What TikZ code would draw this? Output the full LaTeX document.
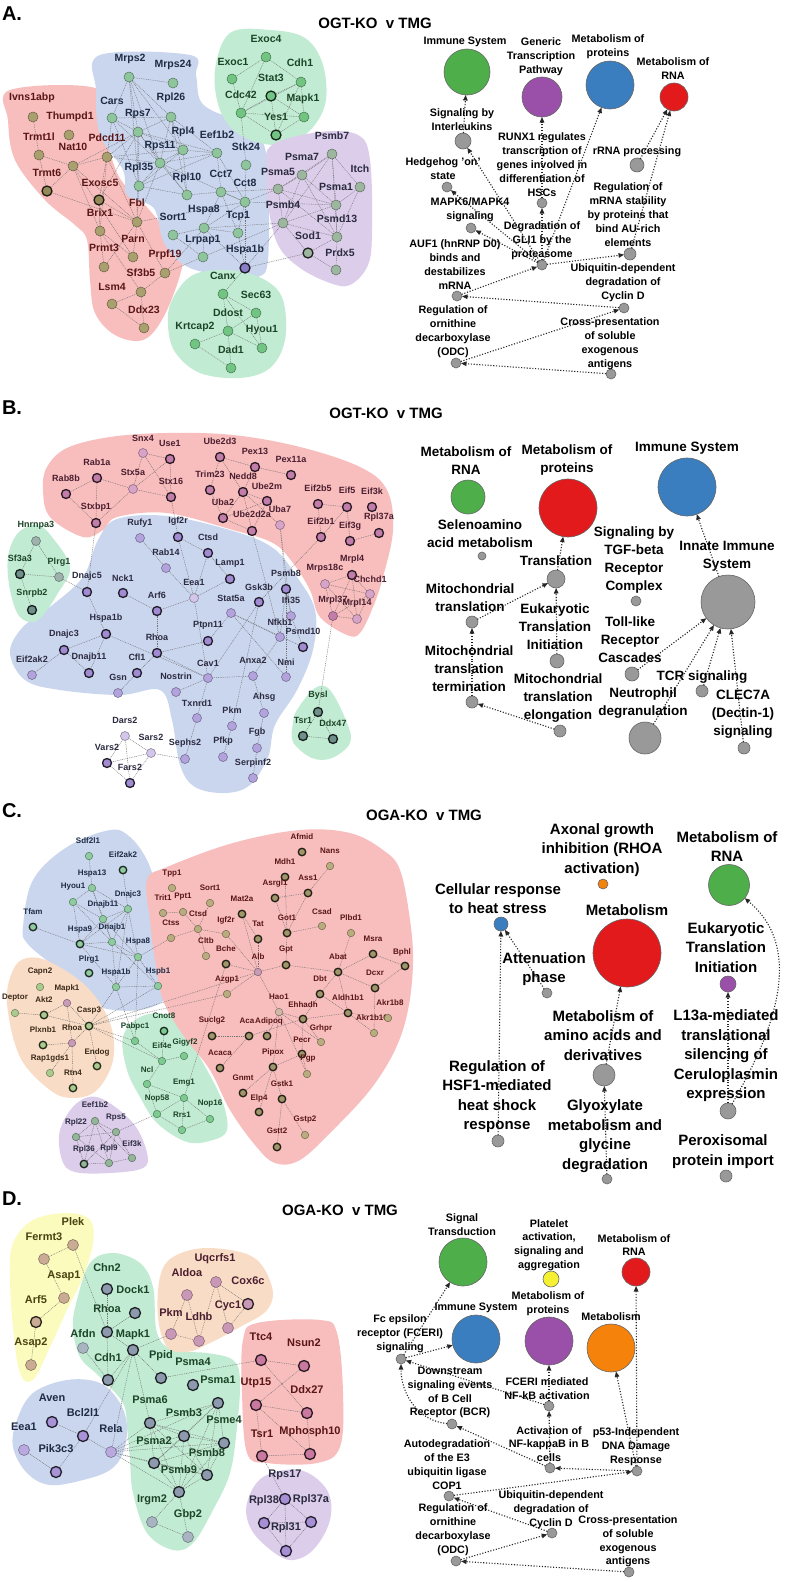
\documentclass[tikz,border=0pt]{standalone}
\usepackage{fontspec}
\setmainfont{Liberation Sans}
\usetikzlibrary{arrows.meta}
\pgfdeclarelayer{bgw}
\pgfdeclarelayer{blob}
\pgfdeclarelayer{lines}
\pgfsetlayers{bgw,blob,lines,main}
% blobs
\definecolor{blobR}{HTML}{F8BDBD}
\definecolor{blobB}{HTML}{CAD6EE}
\definecolor{blobG}{HTML}{C2EBD3}
\definecolor{blobP}{HTML}{DCCDEA}
\definecolor{blobY}{HTML}{FBFBBE}
\definecolor{blobO}{HTML}{F9DCC5}
% node fills
\definecolor{aRf}{HTML}{A99F6F}\definecolor{aRt}{HTML}{938A58}
\definecolor{aBf}{HTML}{8FC59C}\definecolor{aGf}{HTML}{72C483}
\definecolor{aPf}{HTML}{9DB69F}\definecolor{aUf}{HTML}{8A7DC6}
\definecolor{bRf}{HTML}{C27DAA}\definecolor{bRl}{HTML}{D7A3C8}
\definecolor{bBf}{HTML}{A18BD2}\definecolor{bBl}{HTML}{B3A3DD}\definecolor{bBx}{HTML}{D2C6EA}
\definecolor{bGf}{HTML}{6F9088}\definecolor{bGl}{HTML}{9EB2AD}
\definecolor{cBf}{HTML}{8ECC9F}\definecolor{cRf}{HTML}{B9AC7E}\definecolor{cRt}{HTML}{A0966A}
\definecolor{cPk}{HTML}{C89CB8}\definecolor{cOf}{HTML}{ABCB8E}\definecolor{cGf}{HTML}{7DCB91}
\definecolor{cPf}{HTML}{93B598}\definecolor{cRl}{HTML}{D2B8A6}
\definecolor{dGf}{HTML}{8D9AAE}\definecolor{dGl}{HTML}{A9B4C2}\definecolor{dYf}{HTML}{C9AC93}
\definecolor{dOf}{HTML}{CA98B7}\definecolor{dRf}{HTML}{C9799F}\definecolor{dPf}{HTML}{A78FD5}
\definecolor{dBf}{HTML}{A893D6}\definecolor{dBl}{HTML}{B9A9DF}
% label colours
\definecolor{lR}{HTML}{5A1616}\definecolor{lB}{HTML}{1E2B45}\definecolor{lG}{HTML}{1C4527}
\definecolor{lP}{HTML}{2B2B40}\definecolor{lRb}{HTML}{4A1E30}\definecolor{lY}{HTML}{4A4210}
\definecolor{lO}{HTML}{3A2A1A}
% pathway colours
\definecolor{pG}{HTML}{4DAE4A}\definecolor{pU}{HTML}{9A4FA8}\definecolor{pB}{HTML}{3A7EBF}
\definecolor{pR}{HTML}{E31A1C}\definecolor{pN}{HTML}{999999}\definecolor{pO}{HTML}{F5830B}
\definecolor{pY}{HTML}{F5F032}
\newcommand\gn[7]{\node[#4] (#1) at (#2,#3) {}; \node[curlab] (#1L) at (#5,#6) {#7};}
\newcommand\pw[8]{\node[pwn={#4}{#5}] (#1) at (#2,#3) {}; \node[curpl] (#1L) at (#6,#7) {#8};}
\newcommand\lk[1]{\begin{pgfonlayer}{lines}\foreach \a/\b in {#1} {\draw[lnk] (\a) -- (\b);}\end{pgfonlayer}}
\newcommand\blob[2]{\begin{pgfonlayer}{blob}\fill[#1] plot[smooth cycle,tension=0.6] coordinates {#2};\end{pgfonlayer}}
\tikzset{
 every node/.style={inner sep=0pt,outer sep=0pt},
 nd/.style 2 args={circle,minimum size=#1,fill=#2,draw=#2!60!black,line width=0.5pt},
 ndT/.style 2 args={circle,minimum size=#1,fill=#2,draw=#2!20!black,line width=1.3pt},
 arN/.style={nd={10pt}{aRf}}, arT/.style={ndT={10pt}{aRt}},
 abN/.style={nd={10pt}{aBf}},
 agN/.style={nd={10pt}{aGf}}, agT/.style={ndT={10pt}{aGf}},
 apN/.style={nd={10pt}{aPf}}, apT/.style={ndT={10pt}{aPf}},
 apur/.style={ndT={10pt}{aUf}},
 brT/.style={ndT={9pt}{bRf}}, brL/.style={nd={9pt}{bRl}}, brM/.style={nd={9pt}{bRf}},
 bbT/.style={ndT={9pt}{bBf}}, bbL/.style={nd={9pt}{bBl}}, bbX/.style={nd={9pt}{bBx}},
 bgT/.style={ndT={9pt}{bGf}}, bgL/.style={nd={9pt}{bGl}},
 cbN/.style={nd={7.5pt}{cBf}}, cbT/.style={ndT={7.5pt}{cBf}},
 coN/.style={nd={7.5pt}{cOf}}, coT/.style={ndT={7.5pt}{cOf}}, coP/.style={nd={7.5pt}{cPk}},
 cgN/.style={nd={7.5pt}{cGf}}, cgT/.style={ndT={7.5pt}{cGf}},
 cpN/.style={nd={7.5pt}{cPf}}, cpT/.style={ndT={7.5pt}{cPf}},
 crN/.style={nd={7.5pt}{cRf}}, crT/.style={ndT={7.5pt}{cRt}}, crL/.style={nd={7.5pt}{cRl}},
 crP/.style={nd={7.5pt}{cPk}},
 dyN/.style={nd={11pt}{dYf}}, dyT/.style={ndT={11pt}{dYf}},
 dgT/.style={ndT={11pt}{dGf}}, dgL/.style={nd={11pt}{dGl}},
 doN/.style={nd={11pt}{dOf}}, doT/.style={ndT={11pt}{dOf}},
 drT/.style={ndT={11pt}{dRf}}, dpT/.style={ndT={11pt}{dPf}},
 dbT/.style={ndT={11pt}{dBf}}, dbL/.style={nd={11pt}{dBl}},
 labA/.style={font=\fontsize{10.5}{10.5}\selectfont\bfseries},
 labB/.style={font=\fontsize{9}{9}\selectfont\bfseries},
 labC/.style={font=\fontsize{8}{8}\selectfont\bfseries},
 labD/.style={font=\fontsize{11}{11}\selectfont\bfseries},
 pwn/.style 2 args={circle,minimum size=#1,fill=#2,draw=black!60,line width=0.6pt},
 ptA/.style={align=center,font=\fontsize{10.8}{14}\selectfont\bfseries},
 ptB/.style={align=center,font=\fontsize{13.5}{18}\selectfont\bfseries},
 ptC/.style={align=center,font=\fontsize{15}{19.5}\selectfont\bfseries},
 ptD/.style={align=center,font=\fontsize{10.8}{13.8}\selectfont\bfseries},
 lnk/.style={draw=black!55,line width=0.45pt,dash pattern=on 0.9pt off 0.9pt},
 arr/.style={draw=black!85,line width=1.1pt,dash pattern=on 1.1pt off 1.7pt,-{Triangle[length=5.5pt,width=4.5pt]}},
 ttl/.style={font=\fontsize{15}{15}\selectfont\bfseries},
 plet/.style={font=\fontsize{20}{20}\selectfont\bfseries,anchor=west},
}
\begin{document}
\begin{tikzpicture}[x=1pt,y=-1pt]
\useasboundingbox (0,0) rectangle (787,1582);
\begin{pgfonlayer}{bgw}\fill[white] (0,0) rectangle (787,1582);\end{pgfonlayer}
% ================= PANEL A =================
\node[plet] (LA) at (2,14) {A.};
\node[ttl] (TA) at (375,23) {OGT-KO\ \ v TMG};
\blob{blobR}{(10,90) (95,88) (102,120) (118,175) (145,205) (162,225) (182,250) (180,275) (163,318) (143,340) (115,335) (95,313) (90,280) (87,240) (75,225) (45,200) (15,160) (8,120)}
\blob{blobB}{(100,55) (190,55) (196,75) (200,100) (215,112) (245,122) (262,140) (268,175) (268,260) (258,277) (240,278) (190,268) (165,245) (157,215) (150,205) (127,195) (123,170) (100,135) (96,90)}
\blob{blobG}{(230,33) (270,30) (305,38) (323,65) (325,105) (305,135) (275,145) (240,135) (220,110) (215,70)}
\blob{blobP}{(272,145) (320,132) (358,135) (370,160) (372,230) (368,265) (350,285) (330,283) (300,268) (278,245) (268,205) (266,170)}
\blob{blobG}{(172,300) (193,275) (230,270) (265,280) (283,300) (285,340) (270,368) (240,378) (200,373) (175,352) (168,325)}
\tikzset{curlab/.style={labA,text=lR}}
\gn{aIvns}{33}{117}{arN}{32}{98}{Ivns1abp}
\gn{aThum}{69}{135}{arN}{70}{117}{Thumpd1}
\gn{aTrmtl}{39}{155}{arN}{39}{137}{Trmt1l}
\gn{aNat}{73}{166}{arN}{73}{147}{Nat10}
\gn{aPdcd}{107}{157}{arN}{107}{138}{Pdcd11}
\gn{aTrmt6}{47}{191}{arT}{47}{173}{Trmt6}
\gn{aExo}{99}{200}{arT}{100}{183}{Exosc5}
\gn{aFbl}{137}{222}{arN}{137}{203}{Fbl}
\gn{aBrix}{100}{231}{arN}{100}{213}{Brix1}
\gn{aParn}{133}{257}{arN}{133}{239}{Parn}
\gn{aPrmt}{104}{267}{arN}{104}{248}{Prmt3}
\gn{aPrpf}{165}{273}{arN}{165}{255}{Prpf19}
\gn{aSf3}{141}{292}{arN}{141}{273}{Sf3b5}
\gn{aLsm}{112}{304}{arN}{112}{287}{Lsm4}
\gn{aDdx}{144}{328}{arN}{144}{310}{Ddx23}
\tikzset{curlab/.style={labA,text=lB}}
\gn{aMrps2}{129}{77}{abN}{130}{59}{Mrps2}
\gn{aMrps24}{173}{83}{abN}{173}{65}{Mrps24}
\gn{aCars}{112}{118}{abN}{112}{101}{Cars}
\gn{aRpl26}{171}{117}{abN}{171}{98}{Rpl26}
\gn{aRps7}{138}{132}{abN}{138}{114}{Rps7}
\gn{aRpl4}{183}{150}{abN}{183}{132}{Rpl4}
\gn{aEef}{217}{153}{abN}{217}{135}{Eef1b2}
\gn{aRps11}{160}{163}{abN}{160}{146}{Rps11}
\gn{aStk}{246}{165}{abN}{246}{147}{Stk24}
\gn{aRpl35}{139}{186}{abN}{139}{168}{Rpl35}
\gn{aRpl10}{187}{195}{abN}{187}{178}{Rpl10}
\gn{aCct7}{221}{192}{abN}{221}{174}{Cct7}
\gn{aCct8}{245}{202}{abN}{245}{183}{Cct8}
\gn{aHspa8}{204}{228}{abN}{204}{210}{Hspa8}
\gn{aSort}{173}{235}{abN}{173}{217}{Sort1}
\gn{aTcp}{238}{233}{abN}{238}{216}{Tcp1}
\gn{aLrp}{203}{257}{abN}{203}{240}{Lrpap1}
\gn{aHspa1b}{245}{268}{apur}{245}{250}{Hspa1b}
\tikzset{curlab/.style={labA,text=lG}}
\gn{aExoc4}{266}{57}{agN}{266}{39}{Exoc4}
\gn{aExoc1}{232}{79}{agN}{233}{62}{Exoc1}
\gn{aCdh}{301}{82}{agN}{300}{63}{Cdh1}
\gn{aStat}{271}{96}{agT}{271}{78}{Stat3}
\gn{aCdc}{241}{113}{agN}{241}{95}{Cdc42}
\gn{aMapk}{304}{117}{agN}{303}{99}{Mapk1}
\gn{aYes}{276}{135}{agT}{276}{117}{Yes1}
\gn{aCanx}{223}{294}{agN}{223}{276}{Canx}
\gn{aSec}{256}{313}{agN}{256}{295}{Sec63}
\gn{aDdost}{228}{331}{agN}{228}{313}{Ddost}
\gn{aKrt}{195}{344}{agN}{195}{327}{Krtcap2}
\gn{aHyou}{262}{348}{agN}{262}{330}{Hyou1}
\gn{aDad}{231}{368}{agN}{231}{350}{Dad1}
\tikzset{curlab/.style={labA,text=lP}}
\gn{aPsmb7}{332}{154}{apN}{332}{136}{Psmb7}
\gn{aPsma7}{302}{175}{apN}{302}{157}{Psma7}
\gn{aItch}{360}{187}{apN}{360}{169}{Itch}
\gn{aPsma5}{278}{189}{apN}{278}{172}{Psma5}
\gn{aPsma1}{336}{205}{apN}{336}{187}{Psma1}
\gn{aPsmb4}{283}{223}{apN}{283}{205}{Psmb4}
\gn{aPsmd}{337}{237}{apN}{337}{219}{Psmd13}
\gn{aSod}{308}{253}{apT}{308}{236}{Sod1}
\gn{aPrdx}{336}{270}{apN}{340}{253}{Prdx5}
\lk{aIvns/aTrmtl,aTrmtl/aTrmt6,aTrmtl/aNat,aNat/aPdcd,aNat/aTrmt6,aNat/aBrix,aNat/aFbl,aNat/aRps7,aNat/aParn,aTrmt6/aFbl,aPdcd/aExo,aPdcd/aFbl,aPdcd/aBrix,aPdcd/aRps7,aPdcd/aRps11,aPdcd/aRpl4,aPdcd/aCars,aExo/aFbl,aExo/aBrix,aExo/aRps7,aFbl/aParn,aFbl/aPrmt,aFbl/aPrpf,aFbl/aRpl35,aFbl/aRps11,aFbl/aRps7,aFbl/aCct8,aBrix/aPrmt,aBrix/aParn,aBrix/aSf3,aPrpf/aSf3,aSf3/aLsm,aSf3/aDdx,aLsm/aDdx,aPrpf/aHspa8,aPrpf/aPsmb4}
\lk{aMrps2/aMrps24,aMrps2/aCars,aMrps2/aRps7,aMrps2/aRpl26,aMrps2/aRps11,aMrps2/aRpl4,aMrps2/aRpl35,aCars/aRps7,aCars/aRpl35,aCars/aRps11,aCars/aRpl26,aRpl26/aRps7,aRpl26/aRpl4,aRpl26/aRps11,aRpl26/aEef,aRpl26/aRpl10,aRps7/aRpl4,aRps7/aRps11,aRps7/aRpl35,aRps7/aRpl10,aRps7/aEef,aRpl4/aRps11,aRpl4/aEef,aRpl4/aRpl10,aRpl4/aRpl35,aRps11/aRpl35,aRps11/aRpl10,aRps11/aEef,aRps11/aCct8,aRpl10/aRpl35,aRpl10/aCct7,aRpl35/aEef,aEef/aCct7,aEef/aCct8,aStk/aCct8,aStk/aCdc,aCct7/aCct8,aCct7/aTcp,aCct7/aHspa8,aCct7/aPsma5,aCct8/aTcp,aCct8/aHspa8,aCct8/aPsma5,aCct8/aPsma1,aCct8/aHspa1b,aHspa8/aSort,aHspa8/aLrp,aHspa8/aTcp,aHspa8/aHspa1b,aHspa8/aPsmb4,aTcp/aHspa1b,aSort/aLrp,aHspa1b/aCanx,aHspa1b/aSod,aHspa1b/aPsmb4}
\lk{aExoc4/aExoc1,aExoc4/aCdh,aExoc4/aCdc,aExoc1/aCdc,aCdh/aStat,aCdh/aMapk,aCdh/aYes,aCdh/aCdc,aStat/aCdc,aStat/aMapk,aStat/aYes,aCdc/aYes,aCdc/aMapk,aMapk/aYes}
\lk{aPsmb7/aPsma7,aPsmb7/aItch,aPsmb7/aPsma5,aPsmb7/aPsma1,aPsmb7/aPsmb4,aPsmb7/aPsmd,aPsma7/aPsma5,aPsma7/aPsma1,aPsma7/aPsmb4,aPsma7/aPsmd,aPsma5/aPsma1,aPsma5/aPsmb4,aPsma5/aPsmd,aPsma1/aPsmb4,aPsma1/aPsmd,aPsma1/aItch,aItch/aPsmd,aPsmb4/aPsmd,aPsmb4/aSod,aPsmd/aSod,aSod/aPrdx,aPsmd/aPrdx}
\lk{aCanx/aSec,aCanx/aDdost,aCanx/aHyou,aSec/aHyou,aDdost/aHyou,aDdost/aKrt,aDdost/aDad,aKrt/aDad,aDdost/aSec}
% pathways A
\tikzset{curpl/.style={ptA}}
\pw{aImm}{467}{72}{46pt}{pG}{465}{42}{Immune System}
\pw{aGen}{542}{97}{40pt}{pU}{541}{57}{Generic\\Transcription\\Pathway}
\pw{aMetP}{610}{85}{48pt}{pB}{608}{47}{Metabolism of\\proteins}
\pw{aRNA}{674}{97}{28pt}{pR}{673}{69}{Metabolism of\\RNA}
\pw{aIL}{463}{141}{16pt}{pN}{462}{120}{Signaling by\\Interleukins}
\pw{aHh}{447}{187}{10pt}{pN}{443}{168.5}{Hedgehog 'on'\\state}
\pw{aRunx}{542}{203}{10pt}{pN}{542}{164.5}{RUNX1 regulates\\transcription of\\genes involved in\\differentiation of\\HSCs}
\pw{aRrna}{637}{165}{14pt}{pN}{637}{152}{rRNA processing}
\pw{aMapk6}{471}{228}{10pt}{pN}{470}{210}{MAPK6/MAPK4\\signaling}
\pw{aGli}{542}{265}{10pt}{pN}{542}{240.5}{Degradation of\\GLI1 by the\\proteasome}
\pw{aMrna}{630}{254}{12pt}{pN}{628}{214.5}{Regulation of\\mRNA stability\\by proteins that\\bind AU-rich\\elements}
\pw{aAuf}{457}{296}{10pt}{pN}{455}{265}{AUF1 (hnRNP D0)\\binds and\\destabilizes\\mRNA}
\pw{aCyc}{624}{308}{10pt}{pN}{623}{283}{Ubiquitin-dependent\\degradation of\\Cyclin D}
\pw{aOdc}{456}{363}{10pt}{pN}{453}{332}{Regulation of\\ornithine\\decarboxylase\\(ODC)}
\pw{aCross}{611}{374}{10pt}{pN}{610}{343.5}{Cross-presentation\\of soluble\\exogenous\\antigens}
\draw[arr] (aIL) -- (aImm);
\draw[arr] (aRunx) -- (aGen);
\draw[arr] (aGli) -- (aMetP);
\draw[arr] (aGli) -- (aIL);
\draw[arr] (aGli) -- (aRunx);
\draw[arr] (aGli) -- (aMapk6);
\draw[arr] (aGli) -- (aHh);
\draw[arr] (aGli) -- (aMrna);
\draw[arr] (aMrna) -- (aRNA);
\draw[arr] (aRrna) -- (aRNA);
\draw[arr] (aAuf) -- (aGli);
\draw[arr] (aCyc) -- (aAuf);
\draw[arr] (aOdc) -- (aCyc);
\draw[arr] (aCross) -- (aOdc);
% ================= PANEL B =================
\node[plet] (LB) at (2,408) {B.};
\node[ttl] (TB) at (386,413) {OGT-KO\ \ v TMG};
\blob{blobR}{(47,467) (67,448) (110,437) (167,433) (233,435) (300,447) (360,467) (387,490) (393,530) (383,577) (373,607) (360,633) (347,635) (320,617) (310,590) (293,563) (273,543) (233,530) (167,513) (117,517) (103,530) (83,537) (50,517) (43,490)}
\blob{blobB}{(10,653) (22,628) (50,607) (83,577) (98,540) (117,519) (167,516) (233,531) (273,548) (297,577) (315,610) (313,650) (297,690) (275,725) (268,757) (250,785) (225,793) (195,787) (180,765) (172,720) (160,690) (120,695) (60,690) (25,680)}
\blob{blobG}{(8,557) (18,533) (37,525) (52,537) (70,567) (58,593) (38,620) (20,617) (10,590)}
\blob{blobG}{(297,710) (315,688) (330,690) (347,723) (350,743) (332,758) (312,758) (293,742) (293,723)}
\tikzset{curlab/.style={labB,text=lRb}}
\gn{bSnx4}{143}{453}{brL}{143}{438}{Snx4}
\gn{bUse1}{170}{459}{brT}{170}{443}{Use1}
\gn{bRab1a}{97}{478}{brT}{97}{462}{Rab1a}
\gn{bRab8b}{66}{494}{brT}{66}{478}{Rab8b}
\gn{bStx5a}{133}{489}{brL}{133}{472}{Stx5a}
\gn{bStx16}{171}{497}{brT}{171}{481}{Stx16}
\gn{bStxbp}{96}{523}{brT}{96}{507}{Stxbp1}
\gn{bUbe2d3}{220}{457}{brT}{220}{441}{Ube2d3}
\gn{bPex13}{255}{467}{brT}{255}{451}{Pex13}
\gn{bPex11}{291}{475}{brT}{291}{459}{Pex11a}
\gn{bTrim}{210}{490}{brT}{210}{474}{Trim23}
\gn{bNedd}{243}{492}{brT}{243}{476}{Nedd8}
\gn{bUbe2m}{267}{501}{brT}{267}{486}{Ube2m}
\gn{bUba2}{223}{518}{brT}{223}{502}{Uba2}
\gn{bUbe2d2a}{252}{531}{brT}{252}{514}{Ube2d2a}
\gn{bUba7}{280}{525}{brL}{280}{509}{Uba7}
\gn{bEif2b5}{318}{504}{brT}{318}{488}{Eif2b5}
\gn{bEif5}{347}{507}{brT}{347}{490}{Eif5}
\gn{bEif3k}{372}{507}{brT}{372}{491}{Eif3k}
\gn{bEif2b1}{321}{537}{brT}{321}{521}{Eif2b1}
\gn{bEif3g}{350}{541}{brT}{350}{526}{Eif3g}
\gn{bRpl37a}{379}{533}{brT}{379}{517}{Rpl37a}
\gn{bMrpl4}{352}{575}{brT}{352}{559}{Mrpl4}
\gn{bMrps18}{325}{584}{brL}{325}{568}{Mrps18c}
\gn{bChchd}{370}{594}{brL}{370}{579}{Chchd1}
\gn{bMrpl37}{333}{616}{brM}{333}{600}{Mrpl37}
\gn{bMrpl14}{357}{619}{brL}{357}{603}{Mrpl14}
\tikzset{curlab/.style={labB,text=lG}}
\gn{bHnrn}{36}{541}{bgL}{36}{525}{Hnrnpa3}
\gn{bSf3a3}{20}{574}{bgT}{20}{558}{Sf3a3}
\gn{bPlrg}{59}{577}{bgL}{59}{562}{Plrg1}
\gn{bSnrp}{32}{610}{bgT}{32}{593}{Snrpb2}
\gn{bBysl}{318}{712}{bgT}{318}{695}{Bysl}
\gn{bTsr}{303}{736}{bgT}{303}{720}{Tsr1}
\gn{bDdx47}{333}{739}{bgT}{333}{723}{Ddx47}
\tikzset{curlab/.style={labB,text=lP}}
\gn{bRufy}{140}{538}{bbL}{140}{523}{Rufy1}
\gn{bIgf2r}{178}{537}{bbT}{178}{521}{Igf2r}
\gn{bCtsd}{208}{553}{bbT}{208}{537}{Ctsd}
\gn{bRab14}{166}{568}{bbL}{166}{552}{Rab14}
\gn{bLamp}{230}{579}{bbT}{230}{563}{Lamp1}
\gn{bDnajc5}{87}{592}{bbT}{87}{576}{Dnajc5}
\gn{bNck}{123}{593}{bbT}{123}{578}{Nck1}
\gn{bEea}{194}{598}{bbX}{194}{582}{Eea1}
\gn{bArf6}{157}{611}{bbT}{157}{595}{Arf6}
\gn{bStat5}{231}{613}{bbL}{231}{598}{Stat5a}
\gn{bGsk}{259}{602}{bbT}{259}{587}{Gsk3b}
\gn{bPsmb8}{286}{589}{bbT}{286}{573}{Psmb8}
\gn{bIfi}{291}{616}{bbL}{291}{600}{Ifi35}
\gn{bNfkb}{280}{637}{bbL}{280}{622}{Nfkb1}
\gn{bPsmd10}{303}{647}{bbT}{303}{631}{Psmd10}
\gn{bHspa1b}{106}{634}{bbT}{106}{618}{Hspa1b}
\gn{bPtpn}{208}{641}{bbT}{208}{625}{Ptpn11}
\gn{bRhoa}{157}{653}{bbT}{157}{637}{Rhoa}
\gn{bDnajc3}{64}{650}{bbT}{64}{634}{Dnajc3}
\gn{bEif2ak2}{32}{675}{bbL}{32}{659}{Eif2ak2}
\gn{bDnajb11}{89}{673}{bbT}{89}{657}{Dnajb11}
\gn{bCfl}{137}{673}{bbT}{137}{657}{Cfl1}
\gn{bGsn}{118}{693}{bbL}{118}{677}{Gsn}
\gn{bCav}{208}{678}{bbL}{208}{663}{Cav1}
\gn{bAnxa}{253}{676}{bbL}{253}{660}{Anxa2}
\gn{bNmi}{286}{677}{bbL}{286}{662}{Nmi}
\gn{bNostrin}{176}{692}{bbL}{176}{676}{Nostrin}
\gn{bTxnrd}{197}{718}{bbL}{197}{703}{Txnrd1}
\gn{bAhsg}{264}{713}{bbL}{264}{697}{Ahsg}
\gn{bPkm}{232}{726}{bbL}{232}{710}{Pkm}
\gn{bFgb}{257}{748}{bbL}{257}{732}{Fgb}
\gn{bPfkp}{223}{757}{bbL}{223}{741}{Pfkp}
\gn{bSephs}{185}{759}{bbL}{185}{743}{Sephs2}
\gn{bSerp}{253}{778}{bbL}{253}{763}{Serpinf2}
\gn{bDars}{125}{736}{bbX}{125}{720}{Dars2}
\gn{bSars}{151}{753}{bbX}{151}{737}{Sars2}
\gn{bVars}{107}{763}{bbT}{107}{747}{Vars2}
\gn{bFars}{130}{783}{bbT}{130}{767}{Fars2}
\lk{bSnx4/bUse1,bSnx4/bStx5a,bSnx4/bStx16,bUse1/bStx16,bUse1/bStx5a,bRab1a/bRab8b,bRab1a/bStxbp,bRab1a/bStx5a,bRab8b/bStxbp,bStxbp/bStx5a,bStx5a/bStx16,bStx16/bIgf2r,bStxbp/bDnajc5,bUbe2d3/bPex13,bUbe2d3/bTrim,bUbe2d3/bNedd,bPex13/bPex11,bPex13/bNedd,bTrim/bUba2,bNedd/bUbe2m,bNedd/bUba2,bNedd/bUbe2d2a,bNedd/bUba7,bUbe2m/bUba2,bUbe2m/bUbe2d2a,bUba2/bUbe2d2a,bUbe2d2a/bNfkb,bUba7/bPsmb8,bUba7/bIfi,bEif2b5/bEif5,bEif2b5/bEif2b1,bEif5/bEif2b1,bEif5/bEif3g,bEif3g/bRpl37a,bMrpl4/bMrps18,bMrpl4/bChchd,bMrpl4/bMrpl37,bMrpl4/bMrpl14,bMrps18/bChchd,bMrps18/bMrpl37,bMrps18/bMrpl14,bChchd/bMrpl37,bChchd/bMrpl14,bMrpl37/bMrpl14,bMrpl37/bBysl,bEif2b1/bGsk}
\lk{bHnrn/bSf3a3,bHnrn/bPlrg,bSf3a3/bPlrg,bSf3a3/bSnrp,bPlrg/bDnajc5,bRufy/bRab14,bRab14/bEea,bIgf2r/bCtsd,bIgf2r/bEea,bCtsd/bLamp,bCtsd/bEea,bLamp/bEea,bNck/bArf6,bArf6/bEea,bArf6/bRhoa,bEea/bCav,bStat5/bPsmd10,bStat5/bNmi,bStat5/bNfkb,bGsk/bCav,bGsk/bPkm,bPsmb8/bIfi,bPsmb8/bNmi,bPsmb8/bNfkb,bIfi/bPsmd10,bNfkb/bAnxa,bDnajc5/bHspa1b,bHspa1b/bDnajc3,bHspa1b/bDnajb11,bHspa1b/bCav,bDnajc3/bEif2ak2,bDnajc3/bDnajb11,bRhoa/bPtpn,bRhoa/bCfl,bRhoa/bCav,bCfl/bGsn,bPtpn/bStat5,bCav/bAnxa,bCav/bNostrin,bCav/bTxnrd,bAnxa/bAhsg,bAhsg/bFgb,bFgb/bSerp,bTxnrd/bSephs,bSephs/bSars,bDars/bSars,bDars/bVars,bDars/bFars,bVars/bSars,bVars/bFars,bSars/bFars,bBysl/bTsr,bBysl/bDdx47,bTsr/bDdx47,bPkm/bPfkp}
\tikzset{curpl/.style={ptB}}
\pw{bRNA}{468}{497}{34pt}{pG}{466}{461}{Metabolism of\\RNA}
\pw{bMetP}{568}{508}{58pt}{pR}{567}{460}{Metabolism of\\proteins}
\pw{bImm}{687}{487}{58pt}{pB}{687}{448}{Immune System}
\pw{bSel}{482}{556}{8pt}{pN}{480}{534}{Selenoamino\\acid metabolism}
\pw{bTrans}{556}{579}{18pt}{pN}{556}{561}{Translation}
\pw{bTgf}{636}{601}{10pt}{pN}{634}{560}{Signaling by\\TGF-beta\\Receptor\\Complex}
\pw{bInn}{728}{602}{54pt}{pN}{727}{556}{Innate Immune\\System}
\pw{bMito}{472}{622}{12pt}{pN}{470}{598}{Mitochondrial\\translation}
\pw{bEuk}{557}{661}{14pt}{pN}{555}{627}{Eukaryotic\\Translation\\Initiation}
\pw{bToll}{632}{674}{14pt}{pN}{630}{640}{Toll-like\\Receptor\\Cascades}
\pw{bTerm}{472}{702}{12pt}{pN}{469}{669}{Mitochondrial\\translation\\termination}
\pw{bTcr}{702}{691}{12pt}{pN}{702}{677}{TCR signaling}
\pw{bElong}{560}{731}{12pt}{pN}{558}{698}{Mitochondrial\\translation\\elongation}
\pw{bNeut}{645}{738}{32pt}{pN}{643}{703}{Neutrophil\\degranulation}
\pw{bClec}{744}{748}{12pt}{pN}{743}{714}{CLEC7A\\(Dectin-1)\\signaling}
\draw[arr] (bTrans) -- (bMetP);
\draw[arr] (bMito) -- (bTrans);
\draw[arr] (bEuk) -- (bTrans);
\draw[arr] (bTerm) -- (bMito);
\draw[arr] (bElong) -- (bTerm);
\draw[arr] (bInn) -- (bImm);
\draw[arr] (bToll) -- (bInn);
\draw[arr] (bNeut) -- (bInn);
\draw[arr] (bTcr) -- (bInn);
\draw[arr] (bClec) -- (bInn);
% ================= PANEL C =================
\node[plet] (LC) at (2,811) {C.};
\node[ttl] (TC) at (424,815) {OGA-KO\ \ v TMG};
\blob{blobB}{(23,927) (33,880) (67,847) (110,830) (130,837) (147,860) (157,890) (167,930) (170,970) (167,997) (140,1010) (100,1007) (80,987) (50,963) (27,943)}
\blob{blobO}{(7,1003) (13,970) (27,958) (50,962) (87,987) (110,1023) (113,1060) (97,1090) (73,1098) (50,1090) (20,1057)}
\blob{blobG}{(123,1037) (140,1017) (167,1015) (187,1037) (207,1070) (223,1103) (227,1130) (213,1140) (187,1142) (157,1123) (140,1097) (127,1070)}
\blob{blobP}{(60,1130) (77,1103) (100,1098) (133,1123) (147,1153) (143,1168) (110,1173) (75,1172) (62,1160)}
\blob{blobR}{(147,880) (167,867) (233,843) (300,830) (350,833) (383,850) (400,870) (410,920) (413,963) (408,1010) (395,1050) (370,1090) (333,1130) (300,1160) (275,1163) (255,1145) (230,1110) (210,1070) (183,1035) (163,1000) (155,960) (150,920)}
\tikzset{curlab/.style={labC,text=lB}}
\gn{cSdf}{89}{856}{cbN}{88}{841}{Sdf2l1}
\gn{cEif2ak2}{123}{870}{cbT}{123}{855}{Eif2ak2}
\gn{cHspa13}{92}{888}{cbN}{92}{874}{Hspa13}
\gn{cHyou}{73}{902}{cbN}{73}{887}{Hyou1}
\gn{cDnajc3}{128}{909}{cbN}{128}{894}{Dnajc3}
\gn{cDnajb11}{103}{919}{cbN}{103}{904}{Dnajb11}
\gn{cTfam}{33}{927}{cbT}{33}{912}{Tfam}
\gn{cHspa9}{80}{944}{cbT}{80}{930}{Hspa9}
\gn{cDnajb1}{112}{942}{cbN}{112}{927}{Dnajb1}
\gn{cHspa8}{138}{957}{cbN}{138}{942}{Hspa8}
\gn{cPlrg}{89}{973}{cbT}{89}{959}{Plrg1}
\gn{cHspa1b}{116}{987}{cbN}{116}{972}{Hspa1b}
\gn{cHspb1}{158}{986}{cbN}{158}{971}{Hspb1}
\tikzset{curlab/.style={labC,text=lO}}
\gn{cCapn}{40}{987}{coN}{40}{972}{Capn2}
\gn{cMapk}{67}{1003}{coP}{67}{988}{Mapk1}
\gn{cDeptor}{15}{1013}{coN}{15}{998}{Deptor}
\gn{cAkt}{44}{1015}{coT}{44}{1000}{Akt2}
\gn{cCasp}{89}{1026}{coT}{89}{1011}{Casp3}
\gn{cRhoa}{72}{1043}{coP}{72}{1028}{Rhoa}
\gn{cPlxn}{43}{1045}{coT}{43}{1030}{Plxnb1}
\gn{cEndog}{97}{1066}{coT}{97}{1052}{Endog}
\gn{cRap}{50}{1073}{coN}{50}{1058}{Rap1gds1}
\gn{cRtn}{73}{1088}{coT}{73}{1073}{Rtn4}
\tikzset{curlab/.style={labC,text=lG}}
\gn{cCnot}{164}{1031}{cgT}{164}{1016}{Cnot8}
\gn{cPabp}{135}{1041}{cgN}{135}{1026}{Pabpc1}
\gn{cEif4e}{162}{1061}{cgN}{162}{1046}{Eif4e}
\gn{cGigy}{184}{1056}{cgN}{185}{1042}{Gigyf2}
\gn{cNcl}{147}{1084}{cgN}{147}{1070}{Ncl}
\gn{cEmg}{184}{1098}{cgN}{184}{1083}{Emg1}
\gn{cNop58}{157}{1114}{cgN}{157}{1099}{Nop58}
\gn{cNop16}{210}{1119}{cgN}{210}{1104}{Nop16}
\gn{cRrs}{182}{1130}{cgN}{182}{1115}{Rrs1}
\tikzset{curlab/.style={labC,text=lP}}
\gn{cEef}{95}{1121}{cpN}{95}{1105}{Eef1b2}
\gn{cRpl22}{76}{1137}{cpN}{76}{1122}{Rpl22}
\gn{cRps5}{116}{1132}{cpN}{116}{1118}{Rps5}
\gn{cRpl36}{84}{1164}{cpT}{84}{1149}{Rpl36}
\gn{cRpl9}{109}{1163}{cpN}{109}{1148}{Rpl9}
\gn{cEif3k}{132}{1158}{cpN}{132}{1144}{Eif3k}
\tikzset{curlab/.style={labC,text=lR}}
\gn{cAfmid}{302}{852}{crT}{302}{837}{Afmid}
\gn{cNans}{330}{866}{crN}{330}{851}{Nans}
\gn{cMdh}{285}{877}{crT}{285}{862}{Mdh1}
\gn{cAss}{308}{893}{crT}{308}{878}{Ass1}
\gn{cAsrgl}{275}{898}{crT}{275}{883}{Asrgl1}
\gn{cTpp}{172}{888}{crN}{172}{874}{Tpp1}
\gn{cSort}{210}{903}{crN}{210}{888}{Sort1}
\gn{cTrit}{163}{913}{crN}{163}{898}{Trit1}
\gn{cPpt}{183}{912}{crN}{183}{897}{Ppt1}
\gn{cMat}{242}{914}{crT}{242}{899}{Mat2a}
\gn{cCtsd}{198}{929}{crN}{198}{914}{Ctsd}
\gn{cCtss}{171}{938}{crN}{171}{923}{Ctss}
\gn{cIgf}{226}{934}{crN}{226}{920}{Igf2r}
\gn{cGot}{287}{933}{crT}{287}{918}{Got1}
\gn{cCsad}{322}{926}{crN}{322}{912}{Csad}
\gn{cTat}{258}{939}{crT}{258}{924}{Tat}
\gn{cPlbd}{351}{933}{crN}{351}{918}{Plbd1}
\gn{cCltb}{206}{956}{crN}{206}{941}{Cltb}
\gn{cBche}{226}{964}{crT}{226}{949}{Bche}
\gn{cAlb}{258}{972}{crP}{258}{957}{Alb}
\gn{cGpt}{286}{965}{crT}{286}{950}{Gpt}
\gn{cMsra}{373}{954}{crT}{373}{939}{Msra}
\gn{cAbat}{338}{972}{crT}{338}{957}{Abat}
\gn{cAzgp}{227}{994}{crN}{227}{980}{Azgp1}
\gn{cDcxr}{375}{988}{crT}{375}{973}{Dcxr}
\gn{cDbt}{320}{994}{crT}{320}{979}{Dbt}
\gn{cHao}{279}{1012}{crL}{279}{997}{Hao1}
\gn{cEhh}{303}{1019}{crT}{303}{1005}{Ehhadh}
\gn{cAldh}{348}{1013}{crT}{348}{998}{Aldh1b1}
\gn{cAkr10}{374}{1033}{crN}{372}{1018}{Akr1b10}
\gn{cAkr8}{388}{1018}{crN}{390}{1003}{Akr1b8}
\gn{cBphl}{405}{966}{crT}{402}{952}{Bphl}
\gn{cSuclg}{212}{1036}{crT}{212}{1020}{Suclg2}
\gn{cAca}{249}{1036}{crT}{247}{1021}{Aca}
\gn{cAdip}{267}{1036}{crT}{269}{1021}{Adipoq}
\gn{cGrhpr}{321}{1042}{crN}{321}{1028}{Grhpr}
\gn{cPecr}{302}{1054}{crT}{302}{1040}{Pecr}
\gn{cPgp}{307}{1074}{crN}{308}{1059}{Pgp}
\gn{cAcaca}{220}{1068}{crT}{220}{1053}{Acaca}
\gn{cPipox}{273}{1067}{crT}{273}{1052}{Pipox}
\gn{cGnmt}{243}{1093}{crT}{243}{1078}{Gnmt}
\gn{cGstk}{282}{1099}{crT}{282}{1084}{Gstk1}
\gn{cElp}{259}{1112}{crT}{259}{1098}{Elp4}
\gn{cGstp}{305}{1135}{crN}{305}{1120}{Gstp2}
\gn{cGstt}{277}{1147}{crT}{277}{1131}{Gstt2}
\lk{cSdf/cHspa13,cEif2ak2/cDnajc3,cHspa13/cHyou,cHspa13/cDnajb11,cHspa13/cDnajb1,cHspa13/cDnajc3,cHyou/cDnajb11,cHyou/cHspa9,cHyou/cDnajb1,cDnajc3/cDnajb11,cDnajc3/cDnajb1,cDnajc3/cHspa8,cDnajc3/cHspa1b,cDnajc3/cHspa9,cDnajb11/cDnajb1,cDnajb11/cHspa8,cDnajb11/cHspa9,cTfam/cHspa9,cHspa9/cDnajb1,cHspa9/cHspa8,cHspa9/cHspa1b,cDnajb1/cHspa8,cDnajb1/cHspa1b,cDnajb1/cHspb1,cHspa8/cHspa1b,cHspa8/cHspb1,cHspa1b/cHspb1,cHspa1b/cCasp,cHspb1/cCasp,cHspa8/cPabp,cHspa8/cCtss,cHspa1b/cPabp}
\lk{cMapk/cAkt,cMapk/cRhoa,cMapk/cCasp,cDeptor/cAkt,cAkt/cCasp,cCasp/cRhoa,cCasp/cEndog,cRhoa/cPlxn,cRhoa/cRtn,cRhoa/cRap,cCasp/cAzgp,cCasp/cAlb,cCasp/cEif4e,cCasp/cPabp,cCnot/cEif4e,cPabp/cEif4e,cEif4e/cGigy,cEif4e/cNcl,cNcl/cNop58,cNcl/cEmg,cEmg/cNop58,cEmg/cNop16,cEmg/cRrs,cNop58/cRrs,cRrs/cNop16,cEmg/cBche,cNop58/cRps5}
\lk{cEef/cRpl22,cEef/cRpl36,cEef/cRpl9,cEef/cEif3k,cRpl22/cRps5,cRpl22/cRpl36,cRpl22/cRpl9,cRps5/cRpl36,cRps5/cRpl9,cRps5/cEif3k,cRpl36/cRpl9,cRpl9/cEif3k,cRps5/cEef}
\lk{cNans/cAss,cMdh/cGot,cAss/cAsrgl,cAss/cGot,cAsrgl/cGot,cGot/cCsad,cGot/cGpt,cTat/cMat,cTat/cAlb,cMat/cAlb,cAlb/cGpt,cGpt/cAbat,cAlb/cIgf,cAlb/cHao,cAlb/cBche,cAlb/cAzgp,cSort/cCtsd,cTrit/cPpt,cPpt/cCtsd,cCtsd/cCtss,cCtsd/cIgf,cCtsd/cCltb,cAbat/cPlbd,cAbat/cMsra,cAbat/cDbt,cAbat/cDcxr,cAbat/cAldh,cDbt/cAldh,cDbt/cEhh,cDcxr/cAkr10,cDcxr/cBphl,cMsra/cBphl,cAldh/cAkr8,cAldh/cAkr10,cAldh/cEhh,cEhh/cHao,cEhh/cPecr,cEhh/cGrhpr,cEhh/cAca,cHao/cGrhpr,cHao/cPipox,cHao/cPgp,cHao/cAdip,cPecr/cPipox,cPecr/cPgp,cPipox/cGnmt,cPipox/cElp,cPipox/cGstk,cGstk/cGstp,cGstk/cGstt,cSuclg/cAca,cAca/cAcaca}
\tikzset{curpl/.style={ptC}}
\pw{cAxon}{603}{884}{10pt}{pO}{602}{850}{Axonal growth\\inhibition (RHOA\\activation)}
\pw{cRNA}{729}{885}{41pt}{pG}{727}{846.5}{Metabolism of\\RNA}
\pw{cHeat}{501}{924}{14pt}{pB}{498}{898.5}{Cellular response\\to heat stress}
\pw{cMet}{627}{953}{68pt}{pR}{627}{910}{Metabolism}
\pw{cEuk}{728}{984}{16pt}{pU}{726}{947.5}{Eukaryotic\\Translation\\Initiation}
\pw{cAtt}{547}{993}{10pt}{pN}{544}{969}{Attenuation\\phase}
\pw{cAmino}{604}{1075}{22pt}{pN}{603}{1035.5}{Metabolism of\\amino acids and\\derivatives}
\pw{cL13}{728}{1111}{16pt}{pN}{726}{1056}{L13a-mediated\\translational\\silencing of\\Ceruloplasmin\\expression}
\pw{cHsf}{498}{1141}{12pt}{pN}{497}{1096.5}{Regulation of\\HSF1-mediated\\heat shock\\response}
\pw{cGly}{607}{1179}{10pt}{pN}{605}{1136}{Glyoxylate\\metabolism and\\glycine\\degradation}
\pw{cPerox}{726}{1176}{12pt}{pN}{723}{1151.5}{Peroxisomal\\protein import}
\draw[arr] (cHsf) -- (cHeat);
\draw[arr] (cAtt) -- (cHeat);
\draw[arr] (cAmino) -- (cMet);
\draw[arr] (cGly) -- (cAmino);
\draw[arr] (cL13) -- (cEuk);
\draw[arr] (cL13) to[out=60,in=-40] (cRNA);
% ================= PANEL D =================
\node[plet] (LD) at (2,1199) {D.};
\node[ttl] (TD) at (340,1210) {OGA-KO\ \ v TMG};
\blob{blobY}{(13,1243) (33,1220) (67,1213) (90,1220) (93,1243) (83,1277) (67,1310) (50,1347) (33,1380) (20,1373) (13,1327) (10,1277)}
\blob{blobG}{(77,1300) (90,1263) (113,1253) (140,1263) (153,1287) (157,1333) (173,1350) (207,1353) (233,1360) (240,1380) (237,1427) (230,1473) (213,1510) (193,1543) (173,1550) (147,1533) (133,1493) (130,1460) (127,1427) (123,1403) (100,1377) (80,1357) (73,1327)}
\blob{blobO}{(160,1277) (173,1257) (207,1248) (253,1257) (272,1287) (267,1310) (240,1327) (210,1343) (187,1352) (167,1347) (158,1317)}
\blob{blobR}{(243,1340) (257,1323) (320,1320) (337,1333) (343,1393) (340,1447) (317,1463) (267,1463) (247,1453) (242,1393)}
\blob{blobP}{(247,1503) (263,1477) (300,1470) (327,1490) (330,1520) (313,1550) (290,1560) (267,1547) (250,1527)}
\blob{blobB}{(17,1420) (33,1393) (67,1380) (100,1383) (120,1403) (127,1427) (123,1453) (110,1470) (83,1480) (50,1485) (27,1473) (13,1447)}
\tikzset{curlab/.style={labD,text=lY}}
\gn{dPlek}{73}{1245}{dyN}{73}{1222}{Plek}
\gn{dFermt}{44}{1259}{dyN}{44}{1237}{Fermt3}
\gn{dAsap1}{64}{1298}{dyN}{64}{1276}{Asap1}
\gn{dArf5}{36}{1322}{dyT}{36}{1300}{Arf5}
\gn{dAsap2}{31}{1365}{dyN}{31}{1343}{Asap2}
\tikzset{curlab/.style={labD,text=lG}}
\gn{dChn2}{107}{1289}{dgT}{107}{1268}{Chn2}
\gn{dDock}{135}{1313}{dgT}{133}{1290}{Dock1}
\gn{dRhoa}{107}{1332}{dgT}{107}{1309}{Rhoa}
\gn{dMapk}{133}{1350}{dgT}{133}{1335}{Mapk1}
\gn{dAfdn}{83}{1348}{dgL}{83}{1334}{Afdn}
\gn{dCdh}{108}{1380}{dgT}{108}{1358}{Cdh1}
\gn{dPpid}{161}{1378}{dgT}{161}{1356}{Ppid}
\gn{dPsma4}{193}{1385}{dgT}{193}{1362}{Psma4}
\gn{dPsma1}{218}{1403}{dgT}{218}{1380}{Psma1}
\gn{dPsma6}{150}{1423}{dgT}{150}{1400}{Psma6}
\gn{dPsmb3}{184}{1436}{dgT}{184}{1413}{Psmb3}
\gn{dPsme4}{224}{1443}{dgT}{224}{1420}{Psme4}
\gn{dPsma2}{154}{1463}{dgT}{154}{1441}{Psma2}
\gn{dPsmb8}{207}{1475}{dgT}{207}{1453}{Psmb8}
\gn{dPsmb9}{179}{1492}{dgT}{179}{1470}{Psmb9}
\gn{dIrgm}{152}{1522}{dgL}{152}{1500}{Irgm2}
\gn{dGbp}{188}{1537}{dgL}{188}{1515}{Gbp2}
\tikzset{curlab/.style={labD,text=lRb}}
\gn{dUqc}{216}{1282}{doN}{215}{1259}{Uqcrfs1}
\gn{dAldoa}{187}{1295}{doN}{187}{1273}{Aldoa}
\gn{dCox}{248}{1304}{doT}{248}{1281}{Cox6c}
\gn{dCyc}{228}{1328}{doN}{228}{1306}{Cyc1}
\gn{dPkm}{171}{1334}{doN}{171}{1312}{Pkm}
\gn{dLdhb}{199}{1341}{doN}{199}{1317}{Ldhb}
\tikzset{curlab/.style={labD,text=lR}}
\gn{dTtc}{261}{1360}{drT}{261}{1337}{Ttc4}
\gn{dNsun}{304}{1366}{drT}{304}{1343}{Nsun2}
\gn{dUtp}{256}{1405}{drT}{256}{1383}{Utp15}
\gn{dDdx}{307}{1413}{drT}{307}{1390}{Ddx27}
\gn{dTsr}{262}{1456}{drT}{262}{1434}{Tsr1}
\gn{dMph}{310}{1454}{drT}{310}{1432}{Mphosph10}
\tikzset{curlab/.style={labD,text=lP}}
\gn{dRps17}{285}{1499}{dpT}{285}{1475}{Rps17}
\gn{dRpl38}{264}{1523}{dpT}{264}{1501}{Rpl38}
\gn{dRpl37a}{311}{1522}{dpT}{311}{1500}{Rpl37a}
\gn{dRpl31}{286}{1551}{dpT}{286}{1528}{Rpl31}
\tikzset{curlab/.style={labD,text=lB}}
\gn{dAven}{52}{1422}{dbT}{52}{1398}{Aven}
\gn{dBcl}{83}{1436}{dbT}{83}{1413}{Bcl2l1}
\gn{dEea}{24}{1450}{dbL}{24}{1427}{Eea1}
\gn{dRela}{111}{1452}{dbL}{111}{1429}{Rela}
\gn{dPik}{56}{1472}{dbT}{56}{1449}{Pik3c3}
\lk{dPlek/dFermt,dFermt/dAsap1,dAsap1/dArf5,dArf5/dAsap2,dPlek/dRhoa,dRhoa/dDock,dRhoa/dMapk,dChn2/dRhoa,dAfdn/dCdh,dCdh/dMapk,dMapk/dPpid,dMapk/dPkm,dMapk/dRela,dMapk/dBcl,dMapk/dPsma6,dRhoa/dCdh,dPpid/dTtc,dPsmb9/dIrgm,dIrgm/dGbp,dPsmb9/dGbp}
\lk{dPsma1/dPsma6,dPsma1/dPsmb3,dPsma1/dPsme4,dPsma1/dPsma2,dPsma1/dPsmb8,dPsma1/dPsmb9,dPsma6/dPsmb3,dPsma6/dPsme4,dPsma6/dPsma2,dPsma6/dPsmb8,dPsma6/dPsmb9,dPsmb3/dPsme4,dPsmb3/dPsma2,dPsmb3/dPsmb8,dPsmb3/dPsmb9,dPsme4/dPsma2,dPsme4/dPsmb8,dPsme4/dPsmb9,dPsma2/dPsmb8,dPsma2/dPsmb9,dPsmb8/dPsmb9,dRela/dPsma6,dRela/dPsmb3,dRela/dPsma2,dRela/dPsmb9,dRela/dPsmb8,dRela/dPsme4,dRela/dPsma1}
\lk{dUqc/dCox,dUqc/dCyc,dUqc/dLdhb,dAldoa/dLdhb,dAldoa/dPkm,dPkm/dLdhb,dCyc/dCox,dTtc/dNsun,dTtc/dDdx,dNsun/dUtp,dUtp/dDdx,dUtp/dTsr,dUtp/dMph,dDdx/dMph,dTsr/dMph,dTsr/dRps17,dRps17/dRpl38,dRps17/dRpl37a,dRps17/dRpl31,dRpl38/dRpl37a,dRpl38/dRpl31,dRpl37a/dRpl31,dAven/dBcl,dBcl/dPik,dBcl/dRela,dEea/dPik}
\tikzset{curpl/.style={ptD}}
\pw{dSig}{463}{1262}{48pt}{pG}{462}{1225}{Signal\\Transduction}
\pw{dPlat}{551}{1279}{16pt}{pY}{549}{1245}{Platelet\\activation,\\signaling and\\aggregation}
\pw{dRNA}{636}{1272}{28pt}{pR}{634}{1245}{Metabolism of\\RNA}
\pw{dMetP}{549}{1341}{48pt}{pU}{548}{1303.5}{Metabolism of\\proteins}
\pw{dImm}{476}{1339}{48pt}{pB}{476}{1308}{Immune System}
\pw{dMet}{611}{1348}{48pt}{pO}{611}{1317}{Metabolism}
\pw{dFc}{401}{1359}{10pt}{pN}{400}{1334}{Fc epsilon\\receptor (FCERI)\\signaling}
\pw{dBcr}{452}{1424}{10pt}{pN}{450}{1392.5}{Downstream\\signaling events\\of B Cell\\Receptor (BCR)}
\pw{dFceri}{549}{1406}{10pt}{pN}{547}{1388.5}{FCERI mediated\\NF-kB activation}
\pw{dNfkb}{550}{1468}{10pt}{pN}{549}{1444}{Activation of\\NF-kappaB in B\\cells}
\pw{dP53}{637}{1471}{10pt}{pN}{636}{1446.5}{p53-Independent\\DNA Damage\\Response}
\pw{dCop}{449}{1496}{10pt}{pN}{447}{1464.5}{Autodegradation\\of the E3\\ubiquitin ligase\\COP1}
\pw{dCycD}{552}{1533}{10pt}{pN}{551}{1509.5}{Ubiquitin-dependent\\degradation of\\Cyclin D}
\pw{dOdc}{456}{1561}{10pt}{pN}{453}{1529.5}{Regulation of\\ornithine\\decarboxylase\\(ODC)}
\pw{dCross}{629}{1572}{10pt}{pN}{628}{1541.5}{Cross-presentation\\of soluble\\exogenous\\antigens}
\draw[arr] (dFc) -- (dSig);
\draw[arr] (dFc) -- (dImm);
\draw[arr] (dFceri) -- (dFc);
\draw[arr] (dBcr) to[out=175,in=-90] (dFc);
\draw[arr] (dFceri) -- (dMetP);
\draw[arr] (dNfkb) -- (dFceri);
\draw[arr] (dNfkb) -- (dBcr);
\draw[arr] (dP53) -- (dNfkb);
\draw[arr] (dP53) -- (dMet);
\draw[arr] (dP53) -- (dRNA);
\draw[arr] (dCop) -- (dP53);
\draw[arr] (dCycD) -- (dCop);
\draw[arr] (dOdc) -- (dCycD);
\draw[arr] (dCross) -- (dOdc);
\end{tikzpicture}
\end{document}
